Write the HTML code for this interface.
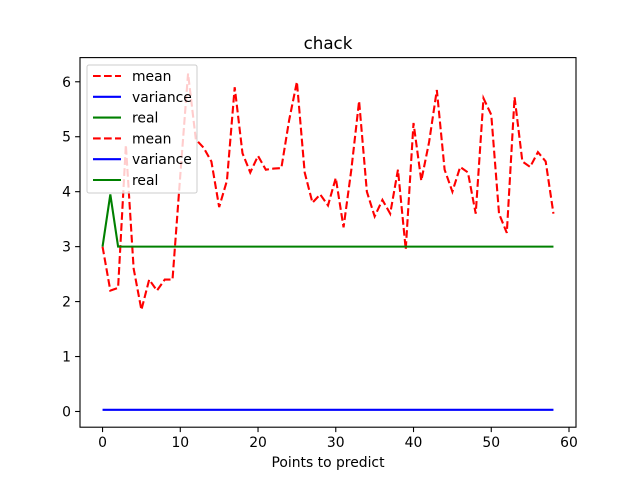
<!DOCTYPE html>
<html><head><meta charset="utf-8"><style>
body{margin:0;background:#fff;font-family:"DejaVu Sans","Liberation Sans",sans-serif}
svg text{font-family:"DejaVu Sans","Liberation Sans",sans-serif}
</style></head><body>
<svg id="c" width="640" height="480" xmlns="http://www.w3.org/2000/svg">
<rect width="640" height="480" fill="#fff"/>
</svg>
<script>
const meanVals=[3.0,2.2,2.25,4.85,2.6,1.85,2.4,2.2,2.4,2.4,4.3,6.15,4.95,4.8,4.55,3.72,4.2,5.9,4.7,4.35,4.65,4.4,4.42,4.43,5.3,6.0,4.35,3.8,3.95,3.75,4.25,3.35,4.4,5.65,4.0,3.55,3.85,3.6,4.4,2.95,5.25,4.2,4.9,5.85,4.4,4.0,4.45,4.35,3.6,5.7,5.4,3.6,3.25,5.72,4.55,4.45,4.72,4.55,3.6];
const realVals=[3,3.95,3].concat(new Array(56).fill(3));
const varianceVals=new Array(59).fill(0.03);
const xTicks=[0,10,20,30,40,50,60];
const yTicks=[0,1,2,3,4,5,6];
const legendLabels=["mean","variance","real","mean","variance","real"];
const NS="http://www.w3.org/2000/svg";
const svg=document.getElementById('c');
const L=80,R=576,T=57.6,B=427.2,x0=-2.9,x1=60.9,y0=-0.286,y1=6.44;
const X=v=>L+(v-x0)/(x1-x0)*(R-L);
const Y=v=>B-(v-y0)/(y1-y0)*(B-T);
function mk(tag,attrs){const e=document.createElementNS(NS,tag);for(const k in attrs)e.setAttribute(k,attrs[k]);svg.appendChild(e);return e;}
function line(vals,color,dash,name){
 const p=mk('polyline',{points:vals.map((v,i)=>X(i)+','+Y(v)).join(' '),fill:'none',stroke:color,'stroke-width':2.1});
 if(dash)p.setAttribute('stroke-dasharray','7.7,3.3');
 
 
}
line(meanVals,'#ff0000',true,'mean-line');
line(varianceVals,'#0000ff',false,'variance-line');
line(realVals,'#008000',false,'real-line');
const fr=mk('rect',{x:L,y:T,width:R-L,height:B-T,fill:'none',stroke:'#000','stroke-width':1.1});


xTicks.forEach(t=>{
 mk('line',{x1:X(t),x2:X(t),y1:B,y2:B+4.9,stroke:'#000','stroke-width':1.1});
 const tx=mk('text',{x:X(t),y:B+20,'text-anchor':'middle','font-size':13.9});tx.textContent=t;
 
 
});
yTicks.forEach(t=>{
 mk('line',{x1:L,x2:L-4.9,y1:Y(t),y2:Y(t),stroke:'#000','stroke-width':1.1});
 const tx=mk('text',{x:L-9,y:Y(t)+5,'text-anchor':'end','font-size':13.9});tx.textContent=t;
 
 
});
const xt=mk('text',{x:(L+R)/2,y:467,'text-anchor':'middle','font-size':13.9});xt.textContent='Points to predict';


const tt=mk('text',{x:(L+R)/2,y:49,'text-anchor':'middle','font-size':16.7});tt.textContent='chack';


const lb=mk('rect',{x:87,y:65,width:110,height:128,rx:2,fill:'#fff','fill-opacity':0.8,stroke:'#ccc','stroke-width':1});


const cols=['#ff0000','#0000ff','#008000'];
legendLabels.forEach((s,i)=>{
 const y=76+i*20.8;
 const l=mk('line',{x1:93,x2:121,y1:y,y2:y,stroke:cols[i%3],'stroke-width':2.1});
 if(i%3===0)l.setAttribute('stroke-dasharray','7.7,3.3');
 const tx=mk('text',{x:132,y:y+5,'font-size':13.9});tx.textContent=s;
 
 
});
</script>
</body></html>
